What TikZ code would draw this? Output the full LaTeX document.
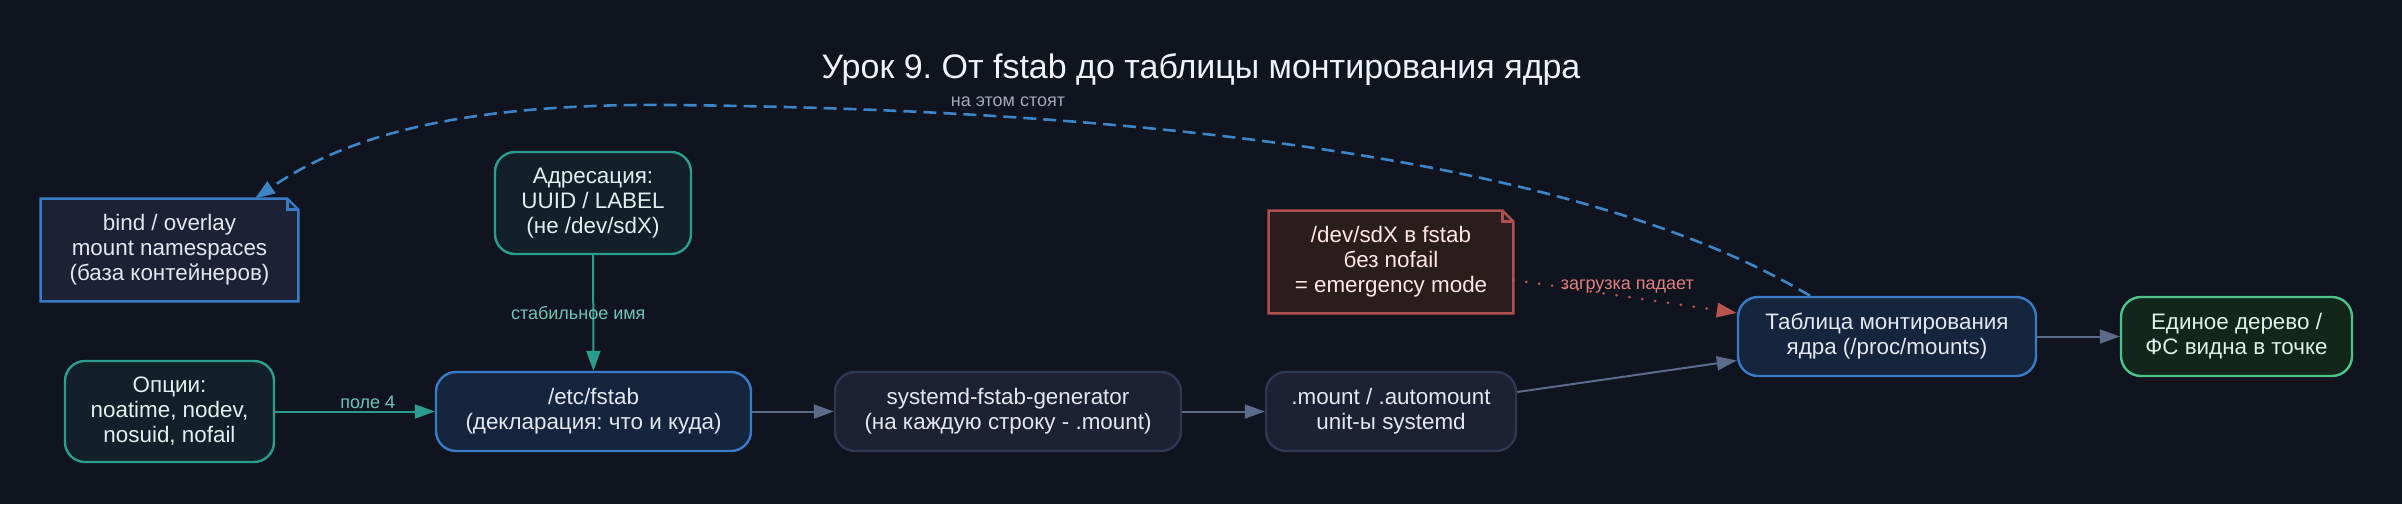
\documentclass[tikz,border=0pt]{standalone}
\usepackage{fontspec}
\setmainfont{Liberation Sans}
\usetikzlibrary{arrows.meta}
\frenchspacing
\pgfdeclarelayer{bglayer}
\pgfsetlayers{bglayer,main}
\definecolor{bgc}{HTML}{10141F}
\definecolor{txt}{HTML}{E2E8F0}
\definecolor{blueB}{HTML}{3A7BC8}
\definecolor{blueF}{HTML}{15253D}
\definecolor{tealB}{HTML}{2A9D8F}
\definecolor{tealF}{HTML}{142029}
\definecolor{grayB}{HTML}{2E3850}
\definecolor{grayF}{HTML}{1C2234}
\definecolor{redB}{HTML}{B0504E}
\definecolor{redF}{HTML}{2B1C1E}
\definecolor{greenB}{HTML}{4CC38A}
\definecolor{greenF}{HTML}{13261C}
\definecolor{noteF}{HTML}{1C2135}
\definecolor{edgeC}{HTML}{5C6B8A}
\definecolor{tealL}{HTML}{6CC4B8}
\definecolor{redE}{HTML}{B85450}
\definecolor{redL}{HTML}{E08080}
\definecolor{blueE}{HTML}{3D85C6}
\definecolor{grayL}{HTML}{A0AABB}
\begin{document}
\begin{tikzpicture}[x=0.5pt,y=-0.5pt,
  box/.style={rounded corners=10pt, line width=1.2pt, align=center, inner sep=0pt,
    font=\fontsize{11.2}{12.5}\selectfont, text=txt},
  notebox/.style={align=center, inner sep=0pt, font=\fontsize{11.2}{12.5}\selectfont, text=txt},
  elabel/.style={font=\fontsize{9}{10}\selectfont, inner sep=1pt},
  tip/.style={-{Triangle[length=10pt,width=7pt]}},
  flow/.style={tip, draw=edgeC, line width=1pt},
]
\begin{pgfonlayer}{bglayer}
\fill[bgc] (0,0) rectangle (2402,504);
\end{pgfonlayer}
\useasboundingbox (0,0) rectangle (2402,504);

\node[text=white!95!blue, font=\fontsize{17}{19}\selectfont] (title) at (1201,70) {Урок 9. От fstab до таблицы монтирования ядра};

\node[notebox, minimum width=128.5pt, minimum height=51pt] (bind) at (169.5,250)
  {bind / overlay\\mount namespaces\\(база контейнеров)};
\node[notebox, minimum width=122pt, minimum height=51pt, text=white!90!red] (sdx) at (1391,262)
  {/dev/sdX в fstab\\без nofail\\= emergency mode};

\node[box, draw=tealB, fill=tealF, minimum width=98pt, minimum height=51pt, text=white!85!tealB] (addr) at (593,203)
  {Адресация:\\UUID / LABEL\\(не /dev/sdX)};
\node[box, draw=tealB, fill=tealF, minimum width=104.5pt, minimum height=50.5pt, text=white!85!tealB] (opts) at (169.5,411.5)
  {Опции:\\noatime, nodev,\\nosuid, nofail};
\node[box, draw=blueB, fill=blueF, minimum width=157.5pt, minimum height=39.5pt] (fstab) at (593.5,411.5)
  {/etc/fstab\\(декларация: что и куда)};
\node[box, draw=grayB, fill=grayF, minimum width=173pt, minimum height=39.5pt] (gen) at (1008,411.5)
  {systemd-fstab-generator\\(на каждую строку - .mount)};
\node[box, draw=grayB, fill=grayF, minimum width=125pt, minimum height=39.5pt] (mount) at (1391,411.5)
  {.mount / .automount\\unit-ы systemd};
\node[box, draw=blueB, fill=blueF, minimum width=149pt, minimum height=39.5pt] (table) at (1887,336.5)
  {Таблица монтирования\\ядра (/proc/mounts)};
\node[box, draw=greenB, fill=greenF, minimum width=115.5pt, minimum height=39.5pt, text=white!80!greenB] (tree) at (2236.5,336.5)
  {Единое дерево /\\ФС видна в точке};

\begin{pgfonlayer}{bglayer}
\foreach \n/\bc/\fc in {bind/blueB/noteF, sdx/redB/redF}{
  \filldraw[draw=\bc, fill=\fc, line width=1.2pt, line join=miter]
    (\n.south west) -- (\n.north west) -- ([xshift=-5.5pt]\n.north east)
    -- ([yshift=-5.5pt]\n.north east) -- (\n.south east) -- cycle;
  \draw[draw=\bc, line width=1.2pt] ([xshift=-5.5pt]\n.north east) |- ([yshift=-5.5pt]\n.north east);
}
\end{pgfonlayer}

\draw[tip, draw=tealB, line width=1pt] (opts) -- node[elabel, text=tealL, pos=0.58, anchor=south] {поле 4} (fstab);
\draw[tip, draw=tealB, line width=1pt] (addr) -- node[elabel, text=tealL, pos=0.5, xshift=-7.5pt] {стабильное имя} (fstab);
\draw[flow] (fstab) -- (gen);
\draw[flow] (gen) -- (mount);
\draw[flow] ([yshift=9.75pt]mount.east) -- ([yshift=-12pt]table.west);
\draw[flow] (table) -- (tree);
\draw[tip, draw=redE, line width=1.5pt, line cap=round, dash pattern=on 0.01pt off 6.5pt]
  ([yshift=-9pt]sdx.east) -- node[elabel, text=redL, pos=0.51, above=0pt] {загрузка падает} ([yshift=11.75pt]table.west);
\coordinate (dstart) at ([xshift=-38.5pt]table.north);
\coordinate (dend) at ([xshift=42.75pt]bind.north);
\draw[tip, draw=blueE, line width=1.3pt, dash pattern=on 6.5pt off 3.5pt]
  (dstart) .. controls (1600,170) and (1200,110) .. (670,105)
  .. controls (450,103) and (340,140) .. (dend);
\node[elabel, text=grayL] (lbl) at (1008,102) {на этом стоят};
\end{tikzpicture}
\end{document}
